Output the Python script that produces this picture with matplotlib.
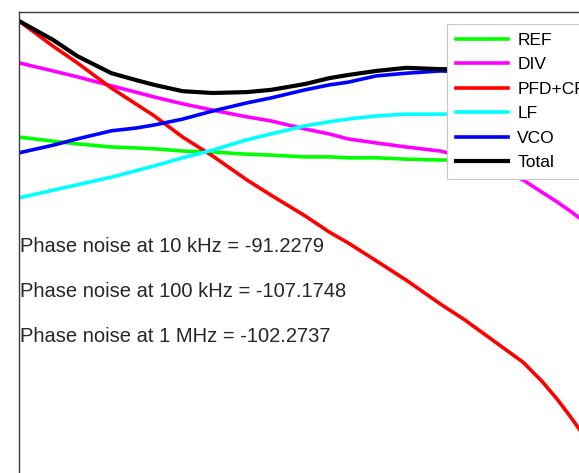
import matplotlib
matplotlib.use("Agg")
import matplotlib.pyplot as plt

plt.rcParams['font.family'] = ['Liberation Sans', 'DejaVu Sans']

# offset frequency (Hz)
freq = [1e4, 1.5e4, 2e4, 3e4, 4e4, 5e4, 7e4, 1e5, 1.5e5, 2e5, 3e5, 4e5,
        5e5, 7e5, 1e6, 1.5e6, 2e6, 3e6, 4e6, 5e6, 6e6, 7e6, 8.5e6, 1e7]

# phase noise contributions (dBc/Hz)
ref = [-115.8, -116.7, -117.3, -118.0, -118.2, -118.4, -118.9, -119.1, -119.6, -119.8, -120.2, -120.2,
       -120.4, -120.4, -120.7, -120.9, -120.9, -121.1, -121.3, -121.6, -121.8, -122.0, -122.2, -122.7]
div = [-99.3, -101.1, -102.4, -104.4, -105.8, -106.9, -108.4, -109.8, -111.3, -112.2, -114.0, -115.1,
       -116.2, -117.1, -118.0, -118.9, -120.2, -122.7, -125.3, -128.0, -130.2, -132.2, -134.9, -137.3]
pfd = [-90.0, -95.6, -99.3, -104.9, -108.4, -111.1, -115.8, -120.0, -125.3, -128.7, -133.3, -136.9,
       -139.3, -143.3, -147.6, -152.9, -156.4, -161.9, -165.8, -170.0, -174.0, -177.8, -182.9, -187.1]
lf = [-129.3, -127.6, -126.4, -124.7, -123.3, -122.2, -120.4, -118.7, -116.4, -115.1, -113.3, -112.4,
      -111.8, -111.1, -110.7, -110.7, -110.7, -111.1, -111.6, -112.0, -112.4, -112.9, -113.6, -114.2]
vco = [-119.3, -117.6, -116.2, -114.4, -113.8, -113.1, -111.8, -110.0, -108.2, -107.1, -105.3, -104.2,
       -103.6, -102.2, -101.6, -101.1, -101.3, -101.6, -101.8, -102.0, -102.2, -102.4, -102.7, -103.1]
total = [-90.0, -94.2, -97.8, -101.6, -103.1, -104.2, -105.6, -106.0, -105.8, -105.3, -104.0, -102.7,
         -102.0, -101.1, -100.4, -100.7, -100.7, -100.9, -101.1, -101.3, -101.6, -101.8, -102.0, -102.4]

labels = ['REF', 'DIV', 'PFD+CP', 'LF', 'VCO', 'Total']
colors = ['#00ff00', '#ff00ff', '#ff0000', '#00ffff', '#0000ff', '#000000']

notes = ['Phase noise at 10 kHz = -91.2279',
         'Phase noise at 100 kHz = -107.1748',
         'Phase noise at 1 MHz = -102.2737']
note_y = [-140, -150, -160]

W, H = 579, 473
fig = plt.figure(figsize=(W / 100, H / 100), dpi=100)
# axes run past the right and bottom of the image (cropped MATLAB figure)
ax = fig.add_axes([19 / W, (H - 516) / H, (600 - 19) / W, (516 - 12) / H])

for y, lab, c in zip([ref, div, pfd, lf, vco, total], labels, colors):
    ax.plot(freq, y, color=c, lw=2.6 if lab != 'Total' else 3.0, label=lab)

ax.set_xscale('log')
ax.set_xlim(1e4, 1e7)
ax.set_ylim(-200, -88)

for txt, yy in zip(notes, note_y):
    ax.text(1.01e4, yy, txt, fontsize=14.5, color='#262626', va='center', ha='left')

for s in ['left', 'top']:
    ax.spines[s].set_color('#3c3c3c')
    ax.spines[s].set_linewidth(1.0)
ax.tick_params(length=0, labelbottom=False, labelleft=False)
ax.minorticks_off()

leg = ax.legend(loc='upper left', bbox_to_anchor=(447 / W, 1 - 24 / H),
                bbox_transform=fig.transFigure, borderaxespad=0,
                fontsize=12.5, handlelength=3.0, handletextpad=0.55,
                labelspacing=0.54, borderpad=0.5, fancybox=False,
                framealpha=1, edgecolor='#c8c8c8')
leg.get_frame().set_linewidth(0.8)

fig.savefig('out.png', dpi=100)
